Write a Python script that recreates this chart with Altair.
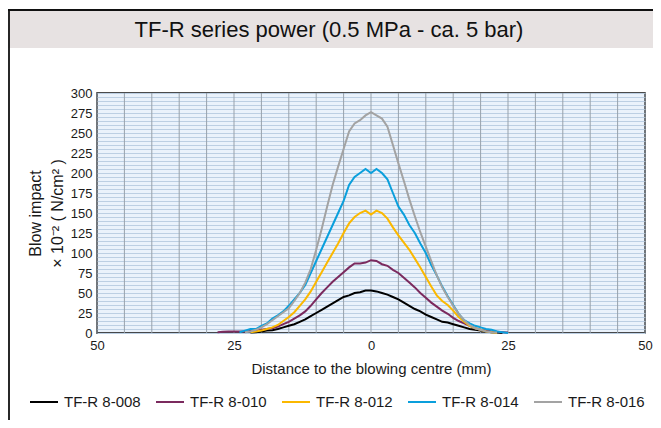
import altair as alt
import pandas as pd

series_names = ["TF-R 8-008", "TF-R 8-010", "TF-R 8-012", "TF-R 8-014", "TF-R 8-016"]
series_colors = ["#000000", "#7b2a5e", "#fbb800", "#0a9fdc", "#a3a3a3"]

# distance (mm) start for each series, 1 mm steps
x_start = [-22, -28, -22, -24, -23]

black_vals = [0.5, 1, 2, 3, 3.5, 5, 7, 9, 11, 14, 17, 21, 25, 29, 33, 37, 41, 45, 47, 50,
              51, 53, 53, 52, 50, 48, 45, 42, 38, 34, 30, 27, 23, 20, 17, 14, 13, 11, 9, 7,
              5, 4, 3, 2, 1, 0.5, 0]
purple_vals = [1, 1.5, 2, 2, 2, 2, 2.5, 3, 4, 5, 6, 8, 11, 14, 18, 22, 27, 34, 42, 50,
               57, 64, 70, 76, 82, 87, 87, 88, 91, 90, 86, 84, 79, 75, 69, 63, 57, 50, 44, 38,
               33, 28, 24, 19, 15, 12, 9, 6, 4, 3, 2, 1.5, 1, 0.5]
yellow_vals = [1, 2, 3, 5, 7, 10, 15, 20, 26, 34, 42, 52, 64, 76, 88, 100, 112, 125, 137, 145,
               150, 153, 148, 153, 150, 143, 132, 122, 113, 104, 93, 82, 70, 58, 47, 40, 35, 28, 20, 14,
               9, 6, 4, 2, 1, 0]
blue_vals = [1, 3, 5, 5, 9, 12, 18, 22, 27, 34, 42, 50, 60, 75, 90, 105, 120, 135, 150, 165,
             185, 195, 200, 205, 200, 205, 200, 192, 175, 158, 148, 135, 125, 112, 100, 85, 72, 58, 46, 35,
             24, 16, 12, 9, 7, 5, 4, 2, 1, 0]
gray_vals = [1, 2, 4, 7, 11, 16, 21, 26, 31, 40, 50, 63, 80, 104, 130, 158, 185, 208, 230, 252,
             262, 266, 272, 276, 272, 268, 258, 235, 212, 190, 167, 146, 126, 108, 90, 72, 57, 45, 34, 24,
             16, 10, 6, 4, 2, 1, 0.5]

all_vals = [black_vals, purple_vals, yellow_vals, blue_vals, gray_vals]

x_ticks = list(range(-50, 51, 5))
x_labels = [-50, -25, 0, 25, 50]
y_ticks = list(range(0, 301, 5))

rows = []
for name, x0, vals in zip(series_names, x_start, all_vals):
    for i, v in enumerate(vals):
        rows.append({"series": name, "x": x0 + i, "y": v})
df = pd.DataFrame(rows)

W, H = 548, 240
FONT = "Liberation Sans"
dummy = pd.DataFrame({"k": [0]})

x_scale = alt.Scale(domain=[-50, 50], nice=False)
x_axis = alt.Axis(values=x_labels, labelExpr="'' + abs(datum.value)",
                  grid=False, ticks=False, domain=False,
                  labelFlush=False, labelOverlap=False, labelFontSize=13, labelFont=FONT,
                  labelColor="#1a1a1a", labelPadding=6,
                  title="Distance to the blowing centre (mm)", titleFontSize=15,
                  titleFont=FONT, titleFontWeight="normal", titleColor="#1a1a1a",
                  titlePadding=9)

band = alt.Chart(dummy).mark_rect(color="#e7e2e2").encode(
    x=alt.value(-90), x2=alt.value(W + 8), y=alt.value(-82), y2=alt.value(-45)
)
top_border = alt.Chart(dummy).mark_rule(color="#111111", strokeWidth=1.8).encode(
    x=alt.value(-90), x2=alt.value(W + 8), y=alt.value(-83)
)
left_border = alt.Chart(dummy).mark_rule(color="#111111", strokeWidth=1.8).encode(
    x=alt.value(-88), y=alt.value(-84), y2=alt.value(H + 87)
)
title_text = alt.Chart(dummy).mark_text(
    text="TF-R series power (0.5 MPa - ca. 5 bar)", fontSize=22, font=FONT,
    fontWeight="normal", align="center", baseline="middle", color="#111111"
).encode(x=alt.value(232), y=alt.value(-63))

# vertical grid drawn as rules above the horizontal grid
vgrid = alt.Chart(pd.DataFrame({"x": x_ticks})).mark_rule(
    color="#98a2ac", strokeWidth=1
).encode(x=alt.X("x:Q", scale=x_scale, axis=x_axis))

lines = alt.Chart(df).mark_line(strokeWidth=2).encode(
    x=alt.X("x:Q", scale=x_scale, axis=x_axis),
    y=alt.Y("y:Q", scale=alt.Scale(domain=[0, 300], nice=False),
            axis=alt.Axis(values=y_ticks,
                          labelExpr="datum.value % 25 == 0 ? datum.label : ''",
                          grid=True, gridColor="#bccfe3", gridWidth=1, ticks=False, domain=False,
                          labelFlush=False, labelOverlap=False, labelFontSize=13, labelFont=FONT,
                          labelColor="#1a1a1a", labelPadding=5,
                          title=["Blow impact", "× 10⁻² ( N/cm² )"], titleFontSize=16,
                          titleFont=FONT, titleFontWeight="normal", titleColor="#1a1a1a",
                          titleLineHeight=22, titleX=-62, titleY=H / 2, titleAngle=-90,
                          titleAlign="center", titleBaseline="middle")),
    color=alt.Color("series:N",
                    scale=alt.Scale(domain=series_names, range=series_colors),
                    legend=alt.Legend(orient="none", legendX=-68, legendY=294,
                                      direction="horizontal", columns=5, title=None,
                                      symbolType="stroke", symbolSize=784, symbolStrokeWidth=2,
                                      labelFontSize=15, labelFont=FONT, labelColor="#1a1a1a",
                                      labelOffset=5, columnPadding=11)),
)

chart = alt.layer(band, top_border, left_border, title_text, vgrid, lines).properties(
    width=W, height=H,
    padding={"left": 89, "top": 85, "right": 8, "bottom": 87},
    autosize="none",
).configure_view(stroke="#111111", strokeWidth=1.5, fill="#eaf2fb")

chart.save("out.html", embed_options={"renderer": "svg", "actions": False})
